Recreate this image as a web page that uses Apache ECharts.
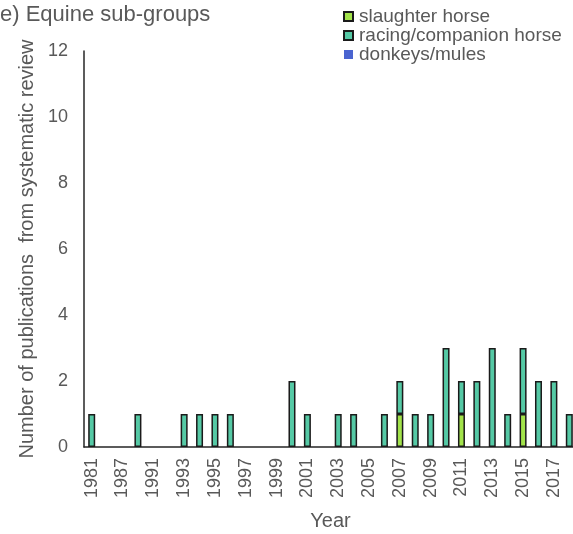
<!DOCTYPE html>
<html><head><meta charset="utf-8">
<script src="https://cdn.jsdelivr.net/npm/echarts@6/dist/echarts.min.js"></script>
<style>html,body{margin:0;padding:0;background:#fff}#c{width:573px;height:534px}</style>
</head><body><div id="c"></div>
<script>
const years = ['1981','1986','1987','1989','1991','1992','1993','1994','1995','1996','1997','1998','1999','2000','2001','2002','2003','2004','2005','2006','2007','2008','2009','2010','2011','2012','2013','2014','2015','2016','2017','2018'];
const slaughter = [0,0,0,0,0,0,0,0,0,0,0,0,0,0,0,0,0,0,0,0,1,0,0,0,1,0,0,0,1,0,0,0];
const racing    = [1,0,0,1,0,0,1,1,1,1,0,0,0,2,1,0,1,1,0,1,1,1,1,3,1,2,3,1,2,2,2,1];
const donkeys   = [0,0,0,0,0,0,0,0,0,0,0,0,0,0,0,0,0,0,0,0,0,0,0,0,0,0,0,0,0,0,0,0];
const yTicks = {min:0,max:12,interval:2};

const font = 'Liberation Sans, Arial, sans-serif';
const grey = '#595959';
const nz = a => a.map(v => v === 0 ? '-' : v);
const chart = echarts.init(document.getElementById('c'), null, {renderer:'canvas'});
chart.setOption({
  animation:false,
  textStyle:{fontFamily:font},
  title:{text:'e) Equine sub-groups', left:0, top:4, padding:0, textStyle:{fontSize:22, fontWeight:'normal', color:grey, fontFamily:font}},
  legend:{orient:'vertical', left:343, top:7, padding:0, itemWidth:9, itemHeight:9, itemGap:0, icon:'rect',
    textStyle:{fontSize:19, lineHeight:18, color:grey, fontFamily:font, padding:[0,0,0,1]},
    data:['slaughter horse','racing/companion horse','donkeys/mules']},
  grid:{left:84, top:51, bottom:87, right:-4, containLabel:false, outerBoundsMode:'none'},
  xAxis:{type:'category', data:years, name:'Year', nameLocation:'middle', nameGap:64,
    nameTextStyle:{fontSize:20, color:grey},
    axisLine:{lineStyle:{color:'#262626', width:1.5}}, axisTick:{show:false},
    axisLabel:{interval:1, rotate:90, fontSize:18, color:grey, margin:11}},
  yAxis:{type:'value', min:yTicks.min, max:yTicks.max, interval:yTicks.interval,
    name:'Number of publications  from systematic review', nameLocation:'middle', nameGap:44,
    nameTextStyle:{fontSize:20, color:grey},
    axisLine:{show:true, lineStyle:{color:'#262626', width:1.5}}, axisTick:{show:false}, splitLine:{show:false},
    axisLabel:{fontSize:18, color:grey, margin:16}},
  series:[
    {name:'slaughter horse', type:'bar', stack:'s', data:nz(slaughter), barWidth:7,
      itemStyle:{color:'#A2E34A', borderColor:'#1a1a1a', borderWidth:1.5}},
    {name:'racing/companion horse', type:'bar', stack:'s', data:nz(racing), barWidth:7,
      itemStyle:{color:'#55C9A5', borderColor:'#1a1a1a', borderWidth:1.5}},
    {name:'donkeys/mules', type:'bar', stack:'s', data:nz(donkeys), barWidth:7,
      itemStyle:{color:'#4A64D0', borderWidth:0}}
  ]
});
</script></body></html>
